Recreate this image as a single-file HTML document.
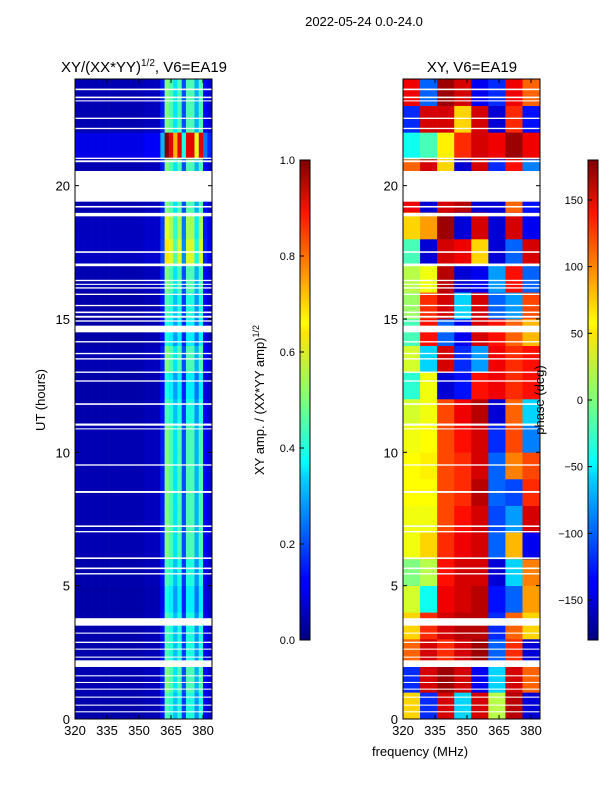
<!DOCTYPE html>
<html><head><meta charset="utf-8">
<style>
body{margin:0;background:#fff;width:600px;height:800px;overflow:hidden;font-family:"Liberation Sans",sans-serif;}
svg text{font-family:"Liberation Sans","DejaVu Sans",sans-serif;}
</style></head><body>
<svg id="fig" width="600" height="800" xmlns="http://www.w3.org/2000/svg">
<defs>
<linearGradient id="jet" x1="0" y1="1" x2="0" y2="0">
<stop offset="0" stop-color="#00007f"/><stop offset="0.11" stop-color="#0000ff"/><stop offset="0.125" stop-color="#0000ff"/>
<stop offset="0.34" stop-color="#00d4ff"/><stop offset="0.37" stop-color="#00ffff"/><stop offset="0.5" stop-color="#7dff7a"/>
<stop offset="0.64" stop-color="#ffe600"/><stop offset="0.66" stop-color="#ffff00"/><stop offset="0.89" stop-color="#ff1300"/><stop offset="1" stop-color="#7f0000"/>
</linearGradient>
</defs>
<text x="364" y="26" font-size="13" text-anchor="middle">2022-05-24 0.0-24.0</text>
<text x="144" y="72" font-size="15" text-anchor="middle">XY/(XX*YY)<tspan font-size="10" dy="-6">1/2</tspan><tspan dy="6">, V6=EA19</tspan></text>
<text x="472" y="72" font-size="15" text-anchor="middle">XY, V6=EA19</text>
<g id="ampPlot"></g>
<g id="phPlot"></g>
<g id="axes"></g>
<rect x="300" y="160" width="10" height="480" fill="url(#jet)" stroke="#000" stroke-width="1"/>
<rect x="588" y="160" width="10" height="480" fill="url(#jet)" stroke="#000" stroke-width="1"/>
<g id="cbticks"></g>
<text transform="translate(264,400) rotate(-90)" font-size="13" text-anchor="middle">XY amp. / (XX*YY amp)<tspan font-size="9" dy="-5">1/2</tspan></text>
<text transform="translate(544,400) rotate(-90)" font-size="13" text-anchor="middle">phase (deg)</text>
<text transform="translate(45,400) rotate(-90)" font-size="13" text-anchor="middle">UT (hours)</text>
<text x="420" y="756" font-size="13" text-anchor="middle">frequency (MHz)</text>
</svg>
<script>
const NS="http://www.w3.org/2000/svg";
const freqTicks=[320,335,350,365,380];
const hourTicks=[0,5,10,15,20];
const ampTicks=["0.0","0.2","0.4","0.6","0.8","1.0"];
const phaseTicks=[-150,-100,-50,0,50,100,150];
// amplitude: 2 MHz bins 320..384
const ampProfile=[0.05,0.05,0.05,0.05,0.05,0.05,0.05,0.05,0.05,0.05,0.05,0.05,0.05,0.05,0.05,0.05,0.06,0.06,0.06,0.06,0.15,0.5,0.45,0.35,0.45,0.2,0.45,0.45,0.3,0.45,0.12,0.08];
const ampRowScale=[0.9,1,0.9,0.9,0.8,0.9,1,1,1,1,1,0.9,0.8,1,0.8,0.9,1,1.3,1.2,1,1,2.0,1,1];
// phase: 8 MHz bins x hourly rows
const phaseGrid=[
[60,-120,150,-60,150,20,160,-150],
[-120,150,170,150,-140,-60,150,100],
[100,150,120,150,170,-100,120,-150],
[60,120,150,160,160,-120,100,60],
[30,-40,140,150,160,-130,-100,80],
[0,20,130,150,150,-150,-60,90],
[40,60,120,140,150,-100,70,-140],
[40,40,110,130,150,-110,-80,150],
[45,45,110,120,160,-100,-110,120],
[45,50,110,120,150,-100,90,110],
[40,45,110,130,150,-120,110,-90],
[30,40,110,140,160,-150,100,-60],
[-30,40,-150,-130,130,140,120,130],
[30,-60,150,-120,-80,140,120,130],
[-20,130,-100,-140,150,130,100,70],
[10,120,150,-60,150,-100,-80,110],
[20,40,160,-150,-140,-80,130,-100],
[-20,-150,150,140,60,-150,-100,150],
[60,80,170,-150,150,-150,150,-140],
[140,-150,150,160,-150,-150,100,-130],
[100,150,60,-150,150,-120,130,-90],
[-40,-20,50,120,150,140,170,140],
[-120,150,150,60,150,-150,120,-130],
[140,-100,170,150,-140,-120,140,100]];
// flagged (white) time intervals in hours
const gaps=[[23.58,23.64],[23.28,23.34],[23.16,23.2],[22.5,22.55],[22.12,22.17],[21.0,21.05],[20.88,20.95],[19.4,20.55],[19.18,19.24],[18.85,18.98],[17.48,17.54],[16.98,17.08],[16.42,16.47],[16.28,16.32],[16.14,16.19],[15.9,15.95],[15.48,15.53],[15.22,15.28],[15.05,15.12],[14.9,14.95],[14.5,14.75],[14.12,14.17],[13.68,13.73],[13.48,13.53],[12.98,13.03],[12.65,12.7],[11.78,11.84],[11.0,11.08],[10.86,10.9],[9.5,9.55],[8.48,8.55],[7.2,7.26],[7.0,7.05],[6.0,6.06],[5.62,5.68],[5.42,5.47],[3.5,3.78],[3.2,3.24],[2.85,2.9],[2.6,2.64],[2.3,2.34],[1.95,2.2],[1.6,1.64],[1.35,1.39],[1.1,1.14],[0.8,0.84],[0.5,0.54],[0.25,0.29]];

const fMin=320,fMax=384.2,hMax=24;
const panels=[{x0:75,x1:212},{x0:403,x1:540}];
const yTop=79,yBot=719;
function yS(h){return yBot-(h/hMax)*(yBot-yTop);}
function xS(p,f){return p.x0+(f-fMin)/(fMax-fMin)*(p.x1-p.x0);}
function jet(v){v=Math.max(0,Math.min(1,v));
 const r=Math.max(0,Math.min(1,1.5-Math.abs(4*v-3))),g=Math.max(0,Math.min(1,1.5-Math.abs(4*v-2))),b=Math.max(0,Math.min(1,1.5-Math.abs(4*v-1)));
 return "rgb("+Math.round(r*255)+","+Math.round(g*255)+","+Math.round(b*255)+")";}
function mk(tag,attrs,parent){const e=document.createElementNS(NS,tag);for(const k in attrs)e.setAttribute(k,attrs[k]);parent.appendChild(e);return e;}
const ampG=document.getElementById('ampPlot'),phG=document.getElementById('phPlot'),axG=document.getElementById('axes'),cbG=document.getElementById('cbticks');
// amplitude cells
for(let r=0;r<ampRowScale.length;r++){for(let c=0;c<ampProfile.length;c++){
 const f0=fMin+c*2,f1=Math.min(fMax,f0+2);
 const e=mk('rect',{x:xS(panels[0],f0),y:yS(r+1),width:xS(panels[0],f1)-xS(panels[0],f0)+0.3,height:yS(r)-yS(r+1)+0.3,fill:jet(ampProfile[c]*ampRowScale[r])},ampG);
 
 
}}
// phase cells
for(let r=0;r<phaseGrid.length;r++){for(let c=0;c<phaseGrid[r].length;c++){
 const f0=fMin+c*8,f1=Math.min(fMax,f0+8);
 const e=mk('rect',{x:xS(panels[1],f0),y:yS(r+1),width:xS(panels[1],f1)-xS(panels[1],f0)+0.3,height:yS(r)-yS(r+1)+0.3,fill:jet((phaseGrid[r][c]+180)/360)},phG);
 
 
}}
// gaps
panels.forEach(p=>{gaps.forEach(g=>{
 const e=mk('rect',{x:p.x0,y:yS(g[1]),width:p.x1-p.x0,height:Math.max(1,yS(g[0])-yS(g[1])),fill:'#fff'},axG);
 
 
});});
// frames and ticks
panels.forEach((p,i)=>{
 const fr=mk('rect',{x:p.x0,y:yTop,width:p.x1-p.x0,height:yBot-yTop,fill:'none',stroke:'#000','stroke-width':1},axG);
 
 
 freqTicks.forEach(f=>{const x=xS(p,f);
  mk('line',{x1:x,y1:yBot,x2:x,y2:yBot-4,stroke:'#000'},axG);mk('line',{x1:x,y1:yTop,x2:x,y2:yTop+4,stroke:'#000'},axG);
  const t=mk('text',{x:x,y:yBot+16,'font-size':13,'text-anchor':'middle'},axG);t.textContent=f;
  
  });
 hourTicks.forEach(h=>{const y=yS(h);
  mk('line',{x1:p.x0,y1:y,x2:p.x0+4,y2:y,stroke:'#000'},axG);mk('line',{x1:p.x1,y1:y,x2:p.x1-4,y2:y,stroke:'#000'},axG);
  const t=mk('text',{x:p.x0-5,y:y+5,'font-size':13,'text-anchor':'end'},axG);t.textContent=h;
  
  });
});
ampTicks.forEach((s,i)=>{const y=640-i/(ampTicks.length-1)*480;
 mk('line',{x1:300,y1:y,x2:304,y2:y,stroke:'#000'},cbG);
 const t=mk('text',{x:295,y:y+4,'font-size':11,'text-anchor':'end'},cbG);t.textContent=s;
 
 });
phaseTicks.forEach(v=>{const y=640-(v+180)/360*480;
 mk('line',{x1:588,y1:y,x2:592,y2:y,stroke:'#000'},cbG);
 const t=mk('text',{x:583,y:y+4,'font-size':11,'text-anchor':'end'},cbG);t.textContent=v<0?'\u2212'+(-v):v;
 
 });
</script>
</body></html>
